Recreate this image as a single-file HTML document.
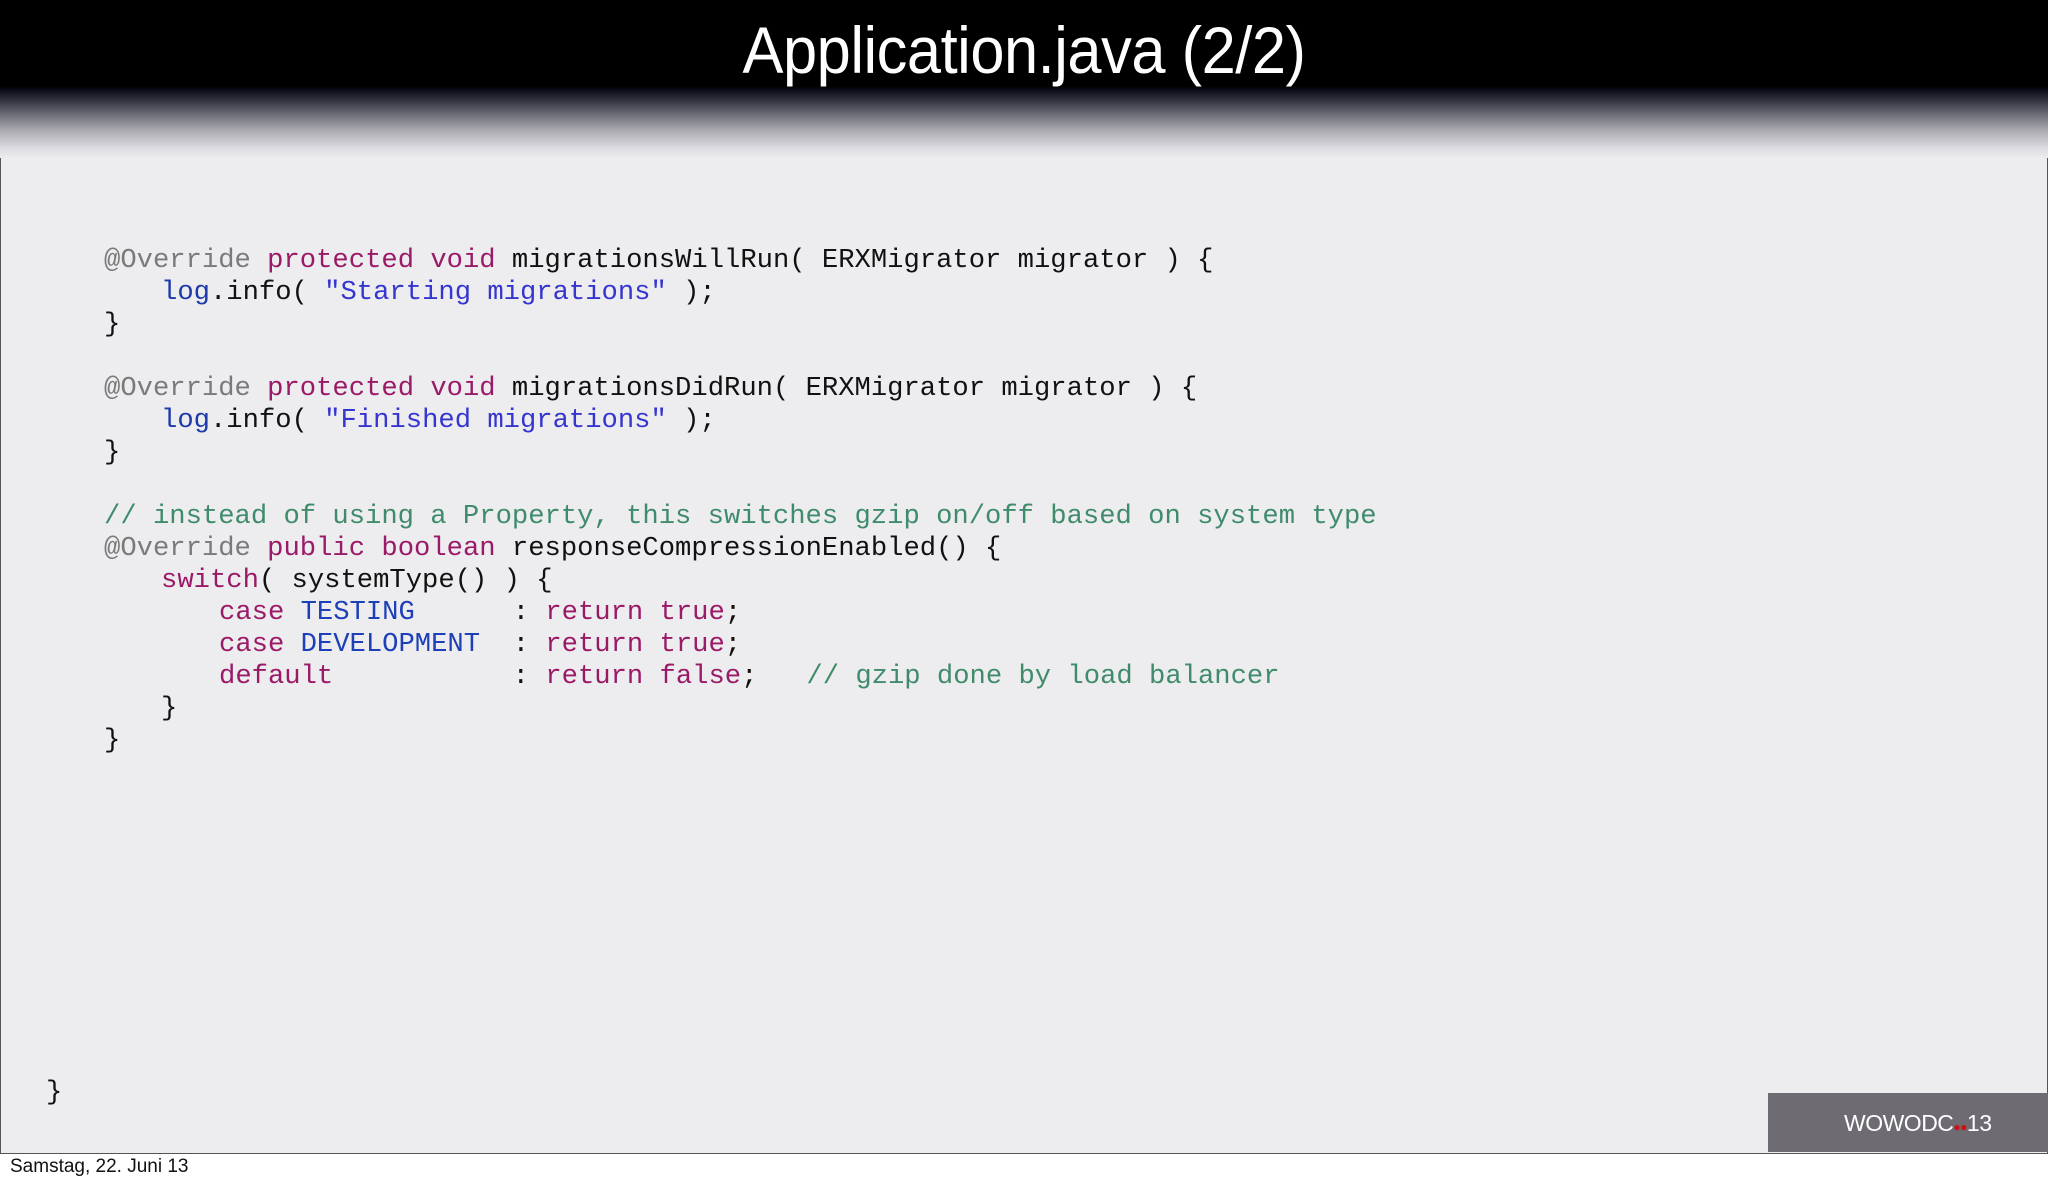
<!DOCTYPE html>
<html><head><meta charset="utf-8"><style>
html,body{margin:0;padding:0;width:2048px;height:1184px;overflow:hidden;background:#fff;}
#slide{position:absolute;left:0;top:0;width:2046px;height:1150px;background:#edecef;border:1px solid #555;border-top:3px solid #333;}
#hdr{position:absolute;left:0;top:0;width:2048px;height:158px;background:linear-gradient(to bottom,#000 0px,#000 86px,#0a0a18 90px,#5a5a66 110px,#a9a9b0 130px,#dcdce0 148px,#edecef 158px);}
#title{position:absolute;left:0;width:2048px;top:12px;text-align:center;color:#fff;font-family:"Liberation Sans",sans-serif;font-size:66px;letter-spacing:-0.5px;transform:scaleX(0.93);}
.l{position:absolute;font-family:"Liberation Mono",monospace;font-size:27.2px;white-space:pre;color:#111;line-height:32px;}
.a{color:#7a7a7a}.k{color:#9a1a68}.s{color:#3535d0}.g{color:#1d3aa8}.c{color:#3f8c6c}.e{color:#1d3fb8}
#logo{position:absolute;left:1768px;top:1093px;width:280px;height:59px;background:#6e6c72;}
#logo span{position:absolute;left:76px;top:17px;color:#fff;font-family:"Liberation Sans",sans-serif;font-size:23px;letter-spacing:-0.5px;}
#foot{position:absolute;left:10px;top:1156px;font-family:"Liberation Sans",sans-serif;font-size:19px;color:#111;}
</style></head><body>
<div id="slide"></div>
<div id="hdr"></div>
<div id="title">Application.java (2/2)</div>
<div class="l" style="left:104px;top:245px"><span class="a">@Override</span> <span class="k">protected void</span> migrationsWillRun( ERXMigrator migrator ) {</div>
<div class="l" style="left:161px;top:277px"><span class="g">log</span>.info( <span class="s">"Starting migrations"</span> );</div>
<div class="l" style="left:104px;top:309px">}</div>
<div class="l" style="left:104px;top:373px"><span class="a">@Override</span> <span class="k">protected void</span> migrationsDidRun( ERXMigrator migrator ) {</div>
<div class="l" style="left:161px;top:405px"><span class="g">log</span>.info( <span class="s">"Finished migrations"</span> );</div>
<div class="l" style="left:104px;top:437px">}</div>
<div class="l" style="left:104px;top:501px"><span class="c">// instead of using a Property, this switches gzip on/off based on system type</span></div>
<div class="l" style="left:104px;top:533px"><span class="a">@Override</span> <span class="k">public boolean</span> responseCompressionEnabled() {</div>
<div class="l" style="left:161px;top:565px"><span class="k">switch</span>( systemType() ) {</div>
<div class="l" style="left:219px;top:597px"><span class="k">case</span> <span class="e">TESTING</span>      : <span class="k">return true</span>;</div>
<div class="l" style="left:219px;top:629px"><span class="k">case</span> <span class="e">DEVELOPMENT</span>  : <span class="k">return true</span>;</div>
<div class="l" style="left:219px;top:661px"><span class="k">default</span>           : <span class="k">return false</span>;   <span class="c">// gzip done by load balancer</span></div>
<div class="l" style="left:161px;top:693px">}</div>
<div class="l" style="left:104px;top:725px">}</div>
<div class="l" style="left:46px;top:1077px">}</div>
<div id="logo"><span>WOWODC<b style="color:#d01010;font-size:12px">●●</b>13</span></div>
<div id="foot">Samstag, 22. Juni 13</div>
</body></html>
